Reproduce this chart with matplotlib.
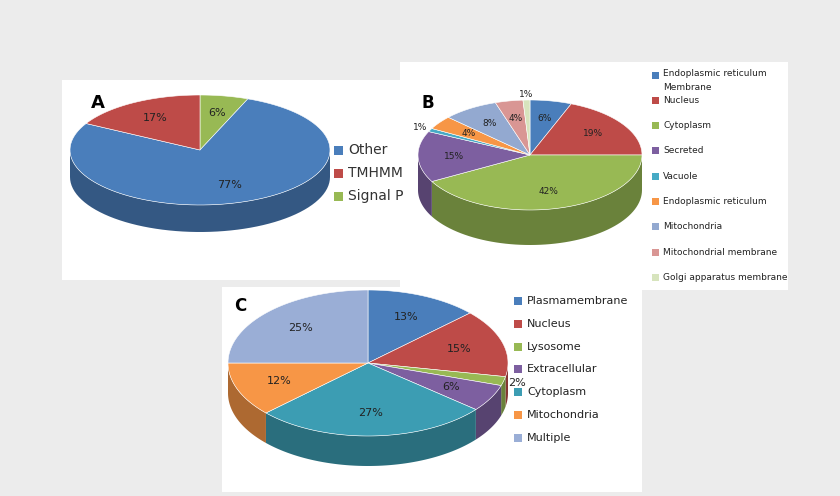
import numpy as np
import matplotlib
matplotlib.use("Agg")
import matplotlib.pyplot as plt
from matplotlib.patches import Polygon, Rectangle
import matplotlib.colors as mc

# Data (clockwise from 12 o'clock)
a_labels = ["Signal P", "Other", "TMHMM"]
a_values = [6, 77, 17]
a_legend = ["Other", "TMHMM", "Signal P"]

b_labels = ["Endoplasmic reticulum\nMembrane", "Nucleus", "Cytoplasm", "Secreted", "Vacuole",
            "Endoplasmic reticulum", "Mitochondria", "Mitochondrial membrane", "Golgi apparatus membrane"]
b_values = [6, 19, 42, 15, 1, 4, 8, 4, 1]

c_labels = ["Plasmamembrane", "Nucleus", "Lysosome", "Extracellular", "Cytoplasm", "Mitochondria", "Multiple"]
c_values = [13, 15, 2, 6, 27, 12, 25]

BLUE, RED, GREEN, PURPLE = "#4a7ebb", "#be4b48", "#98b954", "#7d5fa0"
TEAL, ORANGE, LBLUE, PINK, PALE = "#46aac5", "#f79646", "#93a9d0", "#d99694", "#d7e4bd"
a_colors = {"Other": BLUE, "TMHMM": RED, "Signal P": GREEN}
b_colors = [BLUE, RED, GREEN, PURPLE, TEAL, ORANGE, LBLUE, PINK, PALE]
c_colors = [BLUE, RED, GREEN, PURPLE, "#3c9db3", ORANGE, "#9aaed6"]

fig = plt.figure(figsize=(8.4, 4.96), dpi=100)
fig.patch.set_facecolor("#ececec")
ax = fig.add_axes([0, 0, 1, 1])
ax.set_xlim(0, 840); ax.set_ylim(496, 0); ax.axis("off")

def darker(c, f=0.7):
    r, g, b = mc.to_rgb(c)
    return (r * f, g * f, b * f)

def pie3d(vals, cols, cx, cy, rx, ry, depth, fs, lab_r=0.68):
    tot = sum(vals)
    edges = np.concatenate([[0], np.cumsum(vals)]) / tot * 360
    pt = lambda t, d=0: (cx + rx * np.sin(np.radians(t)), cy - ry * np.cos(np.radians(t)) + d)
    for i in range(len(vals)):
        lo, hi = max(edges[i], 90), min(edges[i + 1], 270)
        if hi > lo:
            ts = np.linspace(lo, hi, 60)
            top = [pt(t) for t in ts]
            bot = [pt(t, depth) for t in ts[::-1]]
            ax.add_patch(Polygon(top + bot, closed=True, fc=darker(cols[i]), ec="none"))
    for i in range(len(vals)):
        ts = np.linspace(edges[i], edges[i + 1], 100)
        ax.add_patch(Polygon([(cx, cy)] + [pt(t) for t in ts], closed=True, fc=cols[i],
                             ec="white", lw=0.4))
    for i, v in enumerate(vals):
        m = np.radians((edges[i] + edges[i + 1]) / 2)
        r = lab_r if v > 3 else 1.1
        ax.text(cx + rx * r * np.sin(m), cy - ry * r * np.cos(m), f"{v}%", ha="center",
                va="center", fontsize=fs, color="#222222")

ax.add_patch(Rectangle((62, 80), 340, 200, fc="white", ec="none"))
ax.add_patch(Rectangle((400, 62), 388, 228, fc="white", ec="none"))
ax.add_patch(Rectangle((222, 287), 420, 205, fc="white", ec="none"))

# A
pie3d(a_values, [a_colors[l] for l in a_labels], 200, 150, 130, 55, 27, 8)
ax.text(98, 103, "A", fontsize=13, fontweight="bold", ha="center", va="center")
for k, l in enumerate(a_legend):
    y = 150 + k * 23
    ax.add_patch(Rectangle((334, y - 4.5), 9, 9, fc=a_colors[l], ec="none"))
    ax.text(348, y, l, fontsize=10, va="center", color="#333333")

# B
pie3d(b_values, b_colors, 530, 155, 112, 55, 35, 6.5)
ax.text(428, 103, "B", fontsize=12, fontweight="bold", ha="center", va="center")
for k, l in enumerate(b_labels):
    y = 75 + k * 25.3
    ax.add_patch(Rectangle((652, y - 3.5), 7, 7, fc=b_colors[k], ec="none"))
    if "\n" in l:
        ax.text(663, y - 5.5, l, fontsize=6.5, va="top", color="#222222", linespacing=1.6)
    else:
        ax.text(663, y, l, fontsize=6.5, va="center", color="#222222")

# C
pie3d(c_values, c_colors, 368, 363, 140, 73, 30, 8)
ax.text(240, 306, "C", fontsize=12, fontweight="bold", ha="center", va="center")
for k, l in enumerate(c_labels):
    y = 301 + k * 22.8
    ax.add_patch(Rectangle((514, y - 4), 8, 8, fc=c_colors[k], ec="none"))
    ax.text(527, y, l, fontsize=8, va="center", color="#222222")

fig.savefig("out.png", dpi=100, facecolor=fig.get_facecolor())
